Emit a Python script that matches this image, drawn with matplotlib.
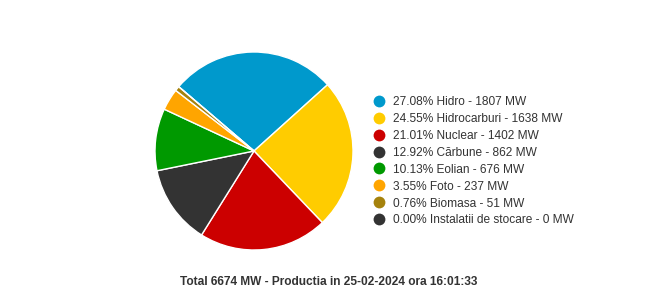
import matplotlib
matplotlib.use("Agg")
import matplotlib.pyplot as plt
from matplotlib.lines import Line2D

categories = ["Hidro", "Hidrocarburi", "Nuclear", "Cărbune", "Eolian", "Foto", "Biomasa", "Instalatii de stocare"]
values_mw = [1807, 1638, 1402, 862, 676, 237, 51, 0]
percents = [27.08, 24.55, 21.01, 12.92, 10.13, 3.55, 0.76, 0.00]
colors = ["#0099CC", "#FFCC00", "#CC0000", "#333333", "#009900", "#FFA500", "#A5820C", "#333333"]
total_mw = 6674
title_text = "Total 6674 MW - Productia in 25-02-2024 ora 16:01:33"

plt.rcParams['font.family'] = ['Liberation Sans', 'DejaVu Sans']

W, H = 662, 299
fig = plt.figure(figsize=(W / 100, H / 100), dpi=100)
fig.patch.set_facecolor("white")

cx, cy, r = 254, 151, 99
ax = fig.add_axes([(cx - r) / W, (H - cy - r) / H, 2 * r / W, 2 * r / H])
ax.pie(values_mw, colors=colors, startangle=139.5, counterclock=False,
       wedgeprops=dict(edgecolor="white", linewidth=1.0), radius=1.0)
ax.set_xlim(-1, 1)
ax.set_ylim(-1, 1)
ax.set_aspect("equal")
ax.axis("off")

# legend
y0 = 100.7
dy = 16.94
for i, (cat, v, p, c) in enumerate(zip(categories, values_mw, percents, colors)):
    y = y0 + i * dy
    fig.add_artist(Line2D([379 / W], [1 - y / H], marker="o", markersize=8.5,
                          color=c, markeredgewidth=0, linestyle="none",
                          transform=fig.transFigure))
    fig.text(393 / W, 1 - (y + 1.2) / H, f"{p:.2f}% {cat} - {v} MW", fontsize=8.6,
             color="#333333", va="center", ha="left")

fig.text(329 / W, 1 - 282 / H, title_text, fontsize=8.6, fontweight="bold",
         color="#333333", ha="center", va="center")

fig.savefig("out.png", dpi=100, facecolor="white")
